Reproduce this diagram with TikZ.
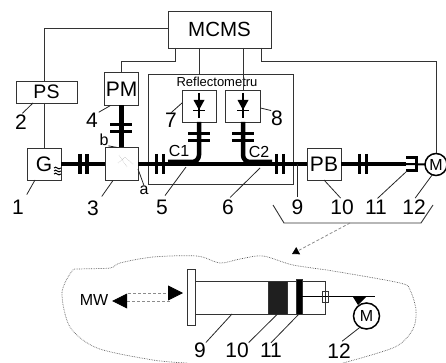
\documentclass[tikz,border=0pt]{standalone}
\usepackage{fontspec}
\setmainfont{Liberation Sans}
\usetikzlibrary{arrows.meta,positioning}
\begin{document}
\begin{tikzpicture}[x=1pt,y=-1pt,>={Triangle[length=15pt,width=15pt,color=black]},
  blk/.style={draw=black!80,line width=0.9pt,fill=white,inner sep=0pt,outer sep=0pt,align=center},
  mot/.style={draw,circle,line width=1.5pt,fill=white,inner sep=0pt,outer sep=0pt,font=\fontsize{16}{16}\selectfont},
  big/.style={font=\fontsize{21}{21}\selectfont},
  lab/.style={inner sep=0pt,outer sep=0pt,font=\fontsize{21}{21}\selectfont},
  sml/.style={inner sep=0pt,outer sep=0pt,font=\fontsize{16}{16}\selectfont},
  wire/.style={draw=black!80,line width=0.9pt},
  lead/.style={draw=black!85,line width=0.8pt},
  cable/.style={line width=3.2pt},
  coax/.style={line width=4.5pt},
  capbar/.style={line width=3.5pt},
  flow/.style={draw=black!45,line width=0.8pt,densely dashed},
  blob/.style={draw=black!65,line width=0.7pt,densely dotted}]
\useasboundingbox (0,0) rectangle (446,363);
\node[blk,minimum width=145pt,minimum height=110pt] (refl) at (220.5,129.5) {};
\node[inner sep=0pt,font=\fontsize{13}{13}\selectfont] (refltxt) at (217,82) {Reflectometru};
\node[blk,minimum width=103pt,minimum height=37pt,font=\fontsize{20.5}{20.5}\selectfont] (mcms) at (219.5,29.5) {MCMS};
\node[blk,minimum width=61pt,minimum height=22pt,font=\fontsize{19.5}{19.5}\selectfont] (ps) at (46.5,92) {PS};
\node[blk,big,minimum width=34pt,minimum height=32pt] (g) at (44,164) {G};
\node[blk,right=44pt of g,minimum width=33pt,minimum height=33pt] (mix) {};
\node[blk,big,above=42pt of mix,minimum width=34pt,minimum height=33pt] (pm) {PM};
\node[blk,minimum width=34pt,minimum height=32pt] (det7) at (199,106) {};
\node[blk,minimum width=35pt,minimum height=32pt] (det8) at (243,106) {};
\node[blk,big,minimum width=34pt,minimum height=32pt] (pb) at (324,164) {PB};
\node[mot,minimum size=22pt] (m1) at (436,164.5) {M};
\coordinate (brk) at (406,164);
\coordinate (cpl1) at (168,162);
\coordinate (cpl2) at (272,162);
\coordinate (seltl) at (273,205);
\coordinate (selbl) at (284,223);
\coordinate (selbr) at (421,223);
\coordinate (seltr) at (433,205);
\coordinate (selm) at (350,223);
\coordinate (zoomto) at (292,254);
\node[lab] (n1) at (18,207) {1};
\node[lab] (n2) at (21,122) {2};
\node[lab] (n3) at (93,208) {3};
\node[lab] (n4) at (92,120) {4};
\node[lab] (n5) at (162,207) {5};
\node[lab] (n6) at (228,207) {6};
\node[lab] (n7) at (171,120) {7};
\node[lab] (n8) at (277,118) {8};
\node[lab] (n9) at (297.5,207) {9};
\node[lab] (n10) at (342,207) {10};
\node[lab] (n11) at (376,207) {11};
\node[lab] (n12) at (414,207) {12};
\node[sml] (na) at (144,190) {a};
\node[sml] (nb) at (104,140) {b};
\node[sml] (c1) at (179,151) {C1};
\node[sml] (c2) at (259,152) {C2};
\draw[wire] ([yshift=1pt]mcms.west) -| (g.north |- ps.north);
\draw[wire] (g.north |- ps.south) -- (g.north);
\draw[wire] ([xshift=-44.5pt]mcms.south) -- ++(0,13) -| (pm.north);
\draw[wire] (mcms.south -| det7.north) -- (refl.north -| det7.north);
\draw[wire] (mcms.south -| det8.north) -- (det8.north);
\draw[wire] ([xshift=41.5pt]mcms.south) -- ++(0,13.5) -| (m1.north);
\draw[cable] (g.east) -- (mix.west);
\draw[cable] (mix.east) -- (pb.west);
\draw[cable] (pb.east) -- (brk);
\draw[coax] (pm.south) -- (mix.north);
\draw[coax,rounded corners=7pt] (det7.south) |- (cpl1);
\draw[coax,rounded corners=7pt] (det8.south) |- (cpl2);
\draw[line width=3pt] (406,158) -- (416,158) -- (416,171) -- (406,171);
\draw[line width=2pt] (brk) -- (m1.west);
\foreach \x in {83.5,160,280,363} {
  \draw[capbar] (\x-3.5,154) -- (\x-3.5,174);
  \draw[capbar] (\x+3.5,154) -- (\x+3.5,174);
}
\foreach \x/\y in {121/128,199/137,243/137} {
  \draw[capbar] (\x-11,\y-3.5) -- (\x+11,\y-3.5);
  \draw[capbar] (\x-11,\y+3.5) -- (\x+11,\y+3.5);
}
\foreach \d in {det7,det8} {
  \begin{scope}[shift={(\d.center)}]
    \draw[line width=1.5pt] (0,-13) -- (0,12);
    \fill (-5.5,-6) -- (5.5,-6) -- (0,4) -- cycle;
    \draw[line width=1.5pt] (-6,4.5) -- (6,4.5);
  \end{scope}
}
\foreach \y in {168,171,174} \draw[line width=1pt] (54,\y) .. controls (56,\y-3) and (58,\y+3) .. (61,\y);
\draw[black!40,densely dotted] (119,155) -- (127,167) (118,163) -- (125,157) -- (133,164);
\draw[lead,shorten >=6pt] ([xshift=-9pt]g.south) -- (n1.north east);
\draw[lead,shorten >=2pt] ([xshift=-13.5pt]ps.south) -- (n2.north);
\draw[lead,shorten >=5pt] ([xshift=-8.5pt]mix.south) -- (n3.north east);
\draw[lead,shorten >=1pt] ([xshift=-11pt]pm.south) -- (n4.north east);
\draw[lead,shorten >=5pt] (cpl1 -| det7.south) ++(-13,5) -- (n5.north);
\draw[lead,shorten >=3pt] (cpl2 -| det8.south) ++(17,6) -- (n6.north);
\draw[lead] ([yshift=3pt]det7.west) -- (n7.north);
\draw[lead] ([yshift=-2pt]det8.east) -- (n8.north west);
\draw[lead,shorten >=3pt] (n9.north |- pb.west) -- (n9.north);
\draw[lead,shorten >=2pt] (pb.south) -- (n10.north);
\draw[lead,shorten >=2pt] (brk) ++(1,7) -- (n11.north);
\draw[lead,shorten >=2pt] (m1.250) -- (n12.north);
\draw[lead] ([yshift=-5pt]mix.east) -- (na.north);
\draw[lead] (nb.south east) -- ([xshift=-4pt]mix.north);
\draw[wire] (seltl) -- (selbl) -- (selbr) -- (seltr);
\draw[flow,-{Triangle[length=7pt,width=8pt,color=black]}] (selm) -- (zoomto);
\draw[blob] plot[smooth] coordinates {(187,363) (153,360) (97,348) (70,327) (62,293) (72,271) (80,269) (110,268) (120,263) (153,257) (197,256) (220,263) (240,259) (263,256) (293,265) (333,271) (400,283) (410,290) (416,310) (413,329) (395,347) (343,363)};
\node[blk,minimum width=130pt,minimum height=33pt] (cyl) at (260,297.5) {};
\node[blk,minimum width=8pt,minimum height=56pt] (fl) at (191,297) {};
\node[blk,fill=black!88,minimum width=19pt,minimum height=33pt] (plug) at (277.5,297.5) {};
\node[blk,fill=black,minimum width=6pt,minimum height=35pt] (pist) at (299,296.5) {};
\coordinate (rodend) at (375,296.5);
\draw[line width=1.6pt] (pist.east) -- (rodend);
\node[blk,line width=0.6pt,fill=none,minimum width=6pt,minimum height=11pt] (seal) at (325,296.5) {};
\node[mot,minimum size=26pt] (m2) at (366.5,316) {M};
\fill (353,297) -- (366,297) -- (358,305) -- cycle;
\node[inner sep=0pt,outer sep=0pt,font=\fontsize{16}{16}\selectfont] (mw) at (94,300) {MW};
\draw[flow,<-] ([shift={(4,1)}]mw.east) -- ([shift={(-17,4)}]fl.west);
\draw[flow,->] ([shift={(20,-7)}]mw.east) -- ([shift={(-4,-4)}]fl.west);
\node[lab] (b9) at (200,350) {9};
\node[lab] (b10) at (237,350) {10};
\node[lab] (b11) at (271,350) {11};
\node[lab] (b12) at (339,351) {12};
\draw[lead] ([xshift=-28pt]cyl.south) -- (b9.north east);
\draw[lead] (plug.south) -- (b10.north east);
\draw[lead] (pist.south) -- (b11.north);
\draw[lead,shorten >=4pt] (m2.240) -- (b12.north);
\end{tikzpicture}
\end{document}
